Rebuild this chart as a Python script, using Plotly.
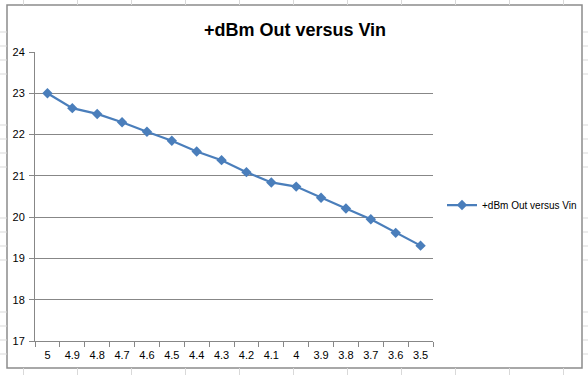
import plotly.graph_objects as go

categories = ["5", "4.9", "4.8", "4.7", "4.6", "4.5", "4.4", "4.3", "4.2", "4.1",
              "4", "3.9", "3.8", "3.7", "3.6", "3.5"]
dbm_out = [23.0, 22.64, 22.5, 22.3, 22.07, 21.85, 21.59, 21.38, 21.09, 20.84,
           20.74, 20.47, 20.21, 19.95, 19.62, 19.31]
series_name = "+dBm Out versus Vin"
title_text = "+dBm Out versus Vin"

W, H = 588, 375
ML, MR, MT, MB = 35, 155, 52, 34
PW, PH = W - ML - MR, H - MT - MB


def px(x):
    return (x - ML) / PW


def py(y):
    return (H - MB - y) / PH


blue = "#4A7EBB"
grid = "#878787"

fig = go.Figure()
fig.add_trace(go.Scatter(
    x=categories, y=dbm_out, mode="lines+markers", name=series_name,
    line=dict(color=blue, width=2.25),
    marker=dict(symbol="diamond", size=8, color=blue),
))

shapes = []
cell = "#D9D9D9"
# spreadsheet cell lines outside chart
for x in [23.5, 77.5, 131.5, 185.5, 239.5, 293.5, 347.5, 401.5, 455.5, 509.5, 563.5]:
    shapes.append(dict(type="line", xref="paper", yref="paper", x0=px(x), x1=px(x),
                       y0=py(0), y1=py(5), line=dict(color=cell, width=1)))
    shapes.append(dict(type="line", xref="paper", yref="paper", x0=px(x), x1=px(x),
                       y0=py(368), y1=py(375), line=dict(color=cell, width=1)))
for y in [32, 46, 60, 74, 125, 139, 153, 167, 218, 232, 246, 260, 312, 326, 340, 354]:
    shapes.append(dict(type="line", xref="paper", yref="paper", x0=px(0), x1=px(7),
                       y0=py(y), y1=py(y), line=dict(color=cell, width=1)))
    shapes.append(dict(type="line", xref="paper", yref="paper", x0=px(583), x1=px(588),
                       y0=py(y), y1=py(y), line=dict(color=cell, width=1)))
# chart border
shapes.append(dict(type="rect", xref="paper", yref="paper", x0=px(7), x1=px(582),
                   y0=py(5), y1=py(368), line=dict(color="#8C8C8C", width=1.5),
                   fillcolor="rgba(0,0,0,0)", layer="below"))

fig.update_layout(
    width=W, height=H,
    margin=dict(l=ML, r=MR, t=MT, b=MB, autoexpand=False),
    paper_bgcolor="white", plot_bgcolor="white",
    font=dict(family="Liberation Sans, Arial, sans-serif", size=11, color="#000000"),
    title=dict(text="<b>" + title_text + "</b>", x=295 / W, xanchor="center",
               y=1 - 30 / H, yanchor="middle",
               font=dict(family="Liberation Sans, Arial, sans-serif", size=18, color="#000000")),
    xaxis=dict(type="category", range=[-0.5, 15.5], showgrid=False,
               showline=True, linecolor=grid, linewidth=1,
               ticks="outside", tickson="boundaries", ticklen=5, tickcolor=grid,
               ticklabelstandoff=4, tickfont=dict(size=11)),
    yaxis=dict(range=[17, 24], dtick=1, showgrid=True, gridcolor=grid, gridwidth=1,
               showline=True, linecolor=grid, linewidth=1,
               ticks="outside", ticklen=5, tickcolor=grid, zeroline=False,
               ticklabelstandoff=2, tickfont=dict(size=11)),
    showlegend=True,
    legend=dict(x=px(442), xanchor="left", y=py(205), yanchor="middle",
                font=dict(size=10), bgcolor="rgba(0,0,0,0)", itemwidth=30,
                tracegroupgap=0),
    shapes=shapes,
)

fig.write_html("out.html", config={"displayModeBar": False},
               post_script="document.body.style.margin='0';document.body.style.padding='0';")
